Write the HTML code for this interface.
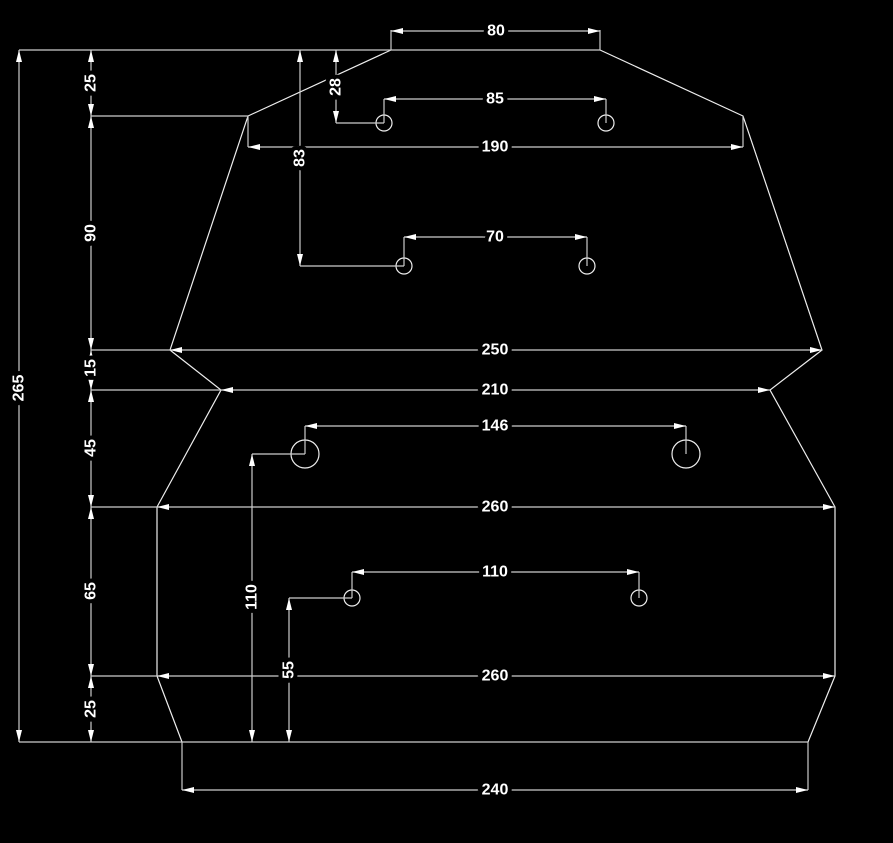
<!DOCTYPE html>
<html><head><meta charset="utf-8"><style>html,body{margin:0;padding:0;background:#000;}svg{display:block}</style></head>
<body>
<svg width="893" height="843" viewBox="0 0 893 843" xmlns="http://www.w3.org/2000/svg">
<defs>
<marker id="a" viewBox="0 0 12 6" refX="12" refY="3" markerWidth="12" markerHeight="6" markerUnits="userSpaceOnUse" orient="auto-start-reverse">
<path d="M0,0 L12,3 L0,6 Z" fill="#fff"/>
</marker>
</defs>
<rect width="893" height="843" fill="#000"/>
<g fill="none" stroke="#eee" stroke-width="1.2">
<polyline points="391,50 248,116 170,350 221,390 157,507 157,676 182,742"/>
<polyline points="600,50 743,116 822,350 770,390 835,507 835,676 808,742"/>
<circle cx="384" cy="123" r="8"/><circle cx="606" cy="123" r="8"/>
<circle cx="404" cy="266" r="8"/><circle cx="587" cy="266" r="8"/>
<circle cx="305" cy="454" r="14"/><circle cx="686" cy="454" r="14"/>
<circle cx="352" cy="598" r="8"/><circle cx="639" cy="598" r="8"/>
</g>
<g fill="none" stroke="#ccc" stroke-width="1.2">
<line x1="19" y1="50" x2="600" y2="50"/>
<line x1="19" y1="742" x2="808" y2="742"/>
<line x1="391" y1="50" x2="391" y2="30"/><line x1="600" y1="50" x2="600" y2="30"/>
<line x1="91" y1="116" x2="248" y2="116"/>
<line x1="91" y1="350" x2="170" y2="350"/>
<line x1="91" y1="390" x2="221" y2="390"/>
<line x1="91" y1="507" x2="157" y2="507"/>
<line x1="91" y1="676" x2="157" y2="676"/>
<line x1="248" y1="116" x2="248" y2="147"/><line x1="743" y1="116" x2="743" y2="147"/>
<polyline points="336,123 384,123"/>
<polyline points="300,266 404,266"/>
<line x1="384" y1="123" x2="384" y2="99"/><line x1="606" y1="123" x2="606" y2="99"/>
<line x1="404" y1="266" x2="404" y2="237"/><line x1="587" y1="266" x2="587" y2="237"/>
<line x1="305" y1="454" x2="305" y2="426"/><line x1="686" y1="454" x2="686" y2="426"/>
<line x1="352" y1="598" x2="352" y2="572"/><line x1="639" y1="598" x2="639" y2="572"/>
<line x1="252" y1="454" x2="305" y2="454"/>
<line x1="289" y1="598" x2="352" y2="598"/>
<line x1="182" y1="742" x2="182" y2="790"/><line x1="808" y1="742" x2="808" y2="790"/>
</g>
<g fill="none" stroke="#ccc" stroke-width="1.2" marker-start="url(#a)" marker-end="url(#a)">
<line x1="391" y1="31" x2="600" y2="31"/>
<line x1="19" y1="50" x2="19" y2="742"/>
<line x1="91" y1="50" x2="91" y2="116"/>
<line x1="91" y1="116" x2="91" y2="350"/>
<line x1="91" y1="350" x2="91" y2="390"/>
<line x1="91" y1="390" x2="91" y2="507"/>
<line x1="91" y1="507" x2="91" y2="676"/>
<line x1="91" y1="676" x2="91" y2="742"/>
<line x1="336" y1="50" x2="336" y2="123"/>
<line x1="300" y1="50" x2="300" y2="266"/>
<line x1="384" y1="99" x2="606" y2="99"/>
<line x1="248" y1="147" x2="743" y2="147"/>
<line x1="404" y1="237" x2="587" y2="237"/>
<line x1="170" y1="350" x2="822" y2="350"/>
<line x1="221" y1="390" x2="770" y2="390"/>
<line x1="305" y1="426" x2="686" y2="426"/>
<line x1="157" y1="507" x2="835" y2="507"/>
<line x1="352" y1="572" x2="639" y2="572"/>
<line x1="157" y1="676" x2="835" y2="676"/>
<line x1="252" y1="454" x2="252" y2="742"/>
<line x1="289" y1="598" x2="289" y2="742"/>
<line x1="182" y1="790" x2="808" y2="790"/>
</g>
<g font-family="Liberation Sans, Arial, sans-serif" font-weight="bold" font-size="16" fill="#fff" stroke="#000" stroke-width="8" paint-order="stroke" text-anchor="middle" dominant-baseline="central">
<text x="496" y="31">80</text>
<text x="495" y="99">85</text>
<text x="495" y="147">190</text>
<text x="495" y="237">70</text>
<text x="495" y="350">250</text>
<text x="495" y="390">210</text>
<text x="495" y="426">146</text>
<text x="495" y="507">260</text>
<text x="495" y="572">110</text>
<text x="495" y="676">260</text>
<text x="495" y="790">240</text>
<text transform="translate(19,388) rotate(-90)">265</text>
<text transform="translate(91,83) rotate(-90)">25</text>
<text transform="translate(91,233) rotate(-90)">90</text>
<text transform="translate(91,368) rotate(-90)">15</text>
<text transform="translate(91,448) rotate(-90)">45</text>
<text transform="translate(91,591) rotate(-90)">65</text>
<text transform="translate(91,709) rotate(-90)">25</text>
<text transform="translate(336,87) rotate(-90)">28</text>
<text transform="translate(300,158) rotate(-90)">83</text>
<text transform="translate(252,597) rotate(-90)">110</text>
<text transform="translate(289,670) rotate(-90)">55</text>
</g>
</svg>
</body></html>
